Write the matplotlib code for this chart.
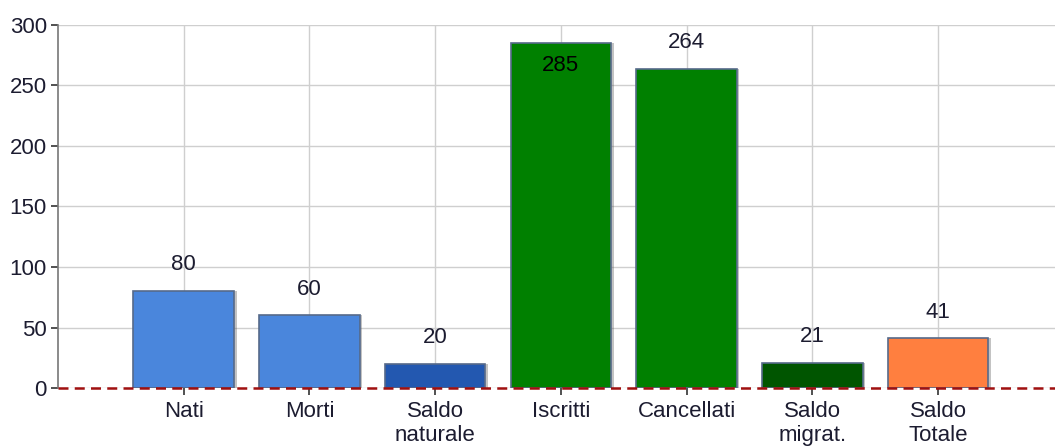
import matplotlib
matplotlib.use("Agg")
import matplotlib.pyplot as plt
import numpy as np

plt.rcParams.update({"font.family": ["Liberation Sans", "DejaVu Sans"],
                     "font.size": 16})

categories = ["Nati", "Morti", "Saldo\nnaturale", "Iscritti", "Cancellati",
              "Saldo\nmigrat.", "Saldo\nTotale"]
values = [80, 60, 20, 285, 264, 21, 41]
colors = ["#4a86dc", "#4a86dc", "#2358b0", "#008000", "#008000",
          "#005500", "#ff7f3f"]

fig = plt.figure(figsize=(10.55, 4.46), dpi=100)
ax = fig.add_axes([0.055, 0.130, 0.945, 0.814])

x = np.arange(1, len(values) + 1)
# shadow
ax.bar(x + 0.02, values, 0.8, color="#555555", alpha=0.35, zorder=2)
ax.bar(x, values, 0.8, color=colors, edgecolor="#566a8a", linewidth=1.2,
       zorder=3)
ax.axhline(0, color="#a01010", ls=(0, (4, 2.5)), lw=1.8, zorder=6,
           clip_on=False)

for xi, v in zip(x, values):
    if v > 280:
        ax.annotate(str(v), (xi, v), xytext=(0, -16), textcoords="offset points",
                    ha="center", va="center", color="black", zorder=5)
    else:
        ax.annotate(str(v), (xi, v), xytext=(0, 19), textcoords="offset points",
                    ha="center", va="center", color="#1c1c30", zorder=5)

ax.set_xlim(0, 7.93)
ax.set_ylim(0, 300)
ax.set_yticks(np.arange(0, 301, 50))
ax.set_xticks(x)
ax.set_xticklabels(categories, linespacing=1.2)
ax.grid(True, color="#cfcfcf", lw=1.0, zorder=0)
ax.set_axisbelow(True)
for s in ["top", "right"]:
    ax.spines[s].set_visible(False)
ax.spines["bottom"].set_visible(False)
ax.spines["left"].set_color("#777777")
ax.spines["left"].set_linewidth(1.2)
ax.tick_params(axis="y", length=5, width=1.2, color="#333333", pad=3,
               labelcolor="#1c1c30")
ax.tick_params(axis="x", length=5, width=1.2, color="#333333", pad=4,
               labelcolor="#1c1c30")

fig.savefig("out.png", dpi=100)
